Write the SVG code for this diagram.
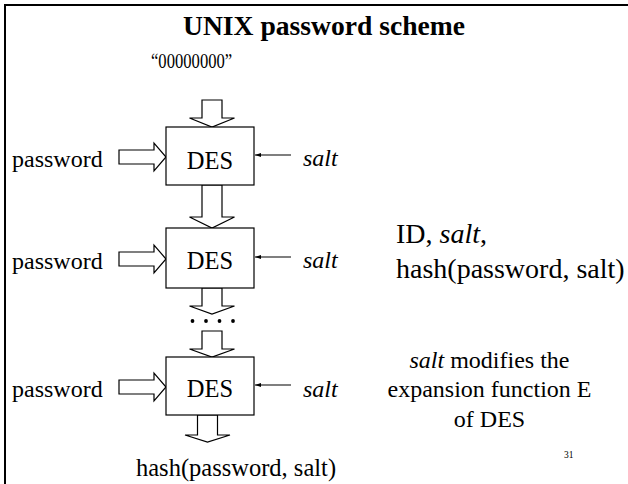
<svg xmlns="http://www.w3.org/2000/svg" width="628" height="484" viewBox="0 0 628 484">
  <defs>
    <marker id="tip" viewBox="0 0 10 10" refX="10" refY="5" markerWidth="6" markerHeight="6" markerUnits="userSpaceOnUse" orient="auto">
      <path d="M0,1.5 L10,5 L0,8.5 Z" fill="#000"/>
    </marker>
    <style>
      text { font-family: "Liberation Serif", "Times New Roman", serif; fill: #000; }
      .title { font-size: 27.6px; font-weight: bold; }
      .lbl { font-size: 24px; }
      .zero { font-size: 22px; }
      .des { font-size: 24.5px; text-anchor: middle; }
      .it { font-style: italic; }
      .side { font-size: 28px; }
      .note { font-size: 24px; text-anchor: middle; }
      .pg { font-size: 9.5px; }
      .box { fill: #fff; stroke: #000; stroke-width: 1.2; }
      .blk { fill: #fff; stroke: #000; stroke-width: 1.2; stroke-linejoin: miter; }
      .thin { stroke: #000; stroke-width: 1.2; fill: none; }
      .frame { stroke: #000; stroke-width: 2; fill: none; }
    </style>
  </defs>

  <rect width="628" height="484" fill="#fff"/>
  <!-- slide frame: top and left edges -->
  <path class="frame" d="M5,484 L5,5 L628,5"/>

  <text class="title" x="183" y="35">UNIX password scheme</text>
  <!-- initial all-zero block, set in a narrowed face -->
  <text class="zero" transform="translate(151,68) scale(0.755,1)" x="0" y="0">“00000000”</text>

  <!-- connectors: block arrows, salt inputs, continuation dots -->
  <g id="connectors">
    <polygon class="blk" points="202,100 222,100 222,118 234.5,118 212,127 189.5,118 202,118"/>
    <polygon class="blk" points="202,185 222,185 222,217 234.5,217 212,228 189.5,217 202,217"/>
    <polygon class="blk" points="202,288 222,288 222,306 234.5,306 212,314 189.5,306 202,306"/>
    <polygon class="blk" points="202,331 222,331 222,349 234.5,349 212,357 189.5,349 202,349"/>
    <polygon class="blk" points="197.5,415 217.5,415 217.5,435 230,435 207.5,442 185,435 197.5,435"/>

    <polygon class="blk" points="119,150 154,150 154,143 166,157 154,171 154,164 119,164"/>
    <polygon class="blk" points="119,252 154,252 154,245 166,259 154,273 154,266 119,266"/>
    <polygon class="blk" points="119,380 154,380 154,373 166,387 154,401 154,394 119,394"/>

    <line class="thin" x1="291" y1="155" x2="255" y2="155" marker-end="url(#tip)"/>
    <line class="thin" x1="291" y1="257" x2="255" y2="257" marker-end="url(#tip)"/>
    <line class="thin" x1="291" y1="385" x2="255" y2="385" marker-end="url(#tip)"/>

    <g fill="#000">
      <circle cx="192.5" cy="321" r="1.9"/>
      <circle cx="206" cy="321" r="1.9"/>
      <circle cx="219.5" cy="321" r="1.9"/>
      <circle cx="233" cy="321" r="1.9"/>
    </g>
  </g>

  <g id="des1">
    <rect class="box" x="166" y="127" width="88" height="58"/>
    <text class="des" x="210" y="169">DES</text>
  </g>
  <g id="des2">
    <rect class="box" x="166" y="228" width="88" height="60"/>
    <text class="des" x="210" y="269">DES</text>
  </g>
  <g id="des3">
    <rect class="box" x="166" y="357" width="88" height="58"/>
    <text class="des" x="210" y="397">DES</text>
  </g>

  <g id="inputs">
    <text class="lbl" x="12" y="167">password</text>
    <text class="lbl" x="12" y="269">password</text>
    <text class="lbl" x="12" y="397">password</text>
    <text class="lbl it" x="303" y="166">salt</text>
    <text class="lbl it" x="303" y="268">salt</text>
    <text class="lbl it" x="303" y="397">salt</text>
  </g>

  <text class="lbl" x="136" y="476" style="font-size:24.5px">hash(password, salt)</text>

  <g id="stored">
    <text class="side" x="396" y="243">ID, <tspan class="it">salt</tspan>,</text>
    <text class="side" x="396" y="278">hash(password, salt)</text>
  </g>

  <g id="note">
    <text class="note" x="489.5" y="368"><tspan class="it">salt</tspan> modifies the</text>
    <text class="note" x="489.5" y="397">expansion function E</text>
    <text class="note" x="489.5" y="427">of DES</text>
  </g>

  <text class="pg" x="564" y="458">31</text>
</svg>
